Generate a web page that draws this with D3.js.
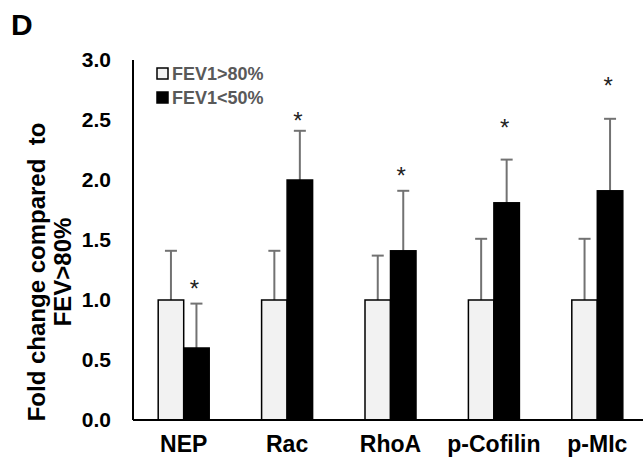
<!DOCTYPE html>
<html>
<head>
<meta charset="utf-8">
<script src="https://cdn.jsdelivr.net/npm/d3@7"></script>
<style>
  body { margin: 0; background: #fff; }
  text { font-family: "Liberation Sans", Arial, sans-serif; font-weight: bold; }
</style>
</head>
<body>
<div id="chart"></div>
<script>
// data
var categories = ["NEP", "Rac", "RhoA", "p-Cofilin", "p-MIc"];
var seriesNames = ["FEV1>80%", "FEV1<50%"];
var highValues = [1.0, 1.0, 1.0, 1.0, 1.0];     // FEV1>80%
var highErrors = [0.41, 0.41, 0.37, 0.51, 0.51];
var lowValues = [0.6, 2.0, 1.41, 1.81, 1.91];    // FEV1<50%
var lowErrors = [0.37, 0.41, 0.5, 0.36, 0.6];
var starLevels = [1.15, 2.55, 2.09, 2.49, 2.84];  // where the * sits
var yTicks = [0, 0.5, 1.0, 1.5, 2.0, 2.5, 3.0];

var width = 643, height = 457;
var margin = {top: 60, right: -6, bottom: 37, left: 133};

var svg = d3.select("#chart")
  .append("svg")
    .attr("width", width)
    .attr("height", height);

// scales
var x = d3.scaleBand()
    .domain(categories)
    .range([132, 649])
    .padding(0);

var x1 = d3.scaleBand()
    .domain(seriesNames)
    .range([x.bandwidth() / 2 - 25.5, x.bandwidth() / 2 + 25.5]);

var y = d3.scaleLinear()
    .domain([0, 3])
    .range([height - margin.bottom, margin.top]);

// build rows for both series
var rows = [];
categories.forEach(function(c, i) {
  rows.push({cat: c, s: seriesNames[0], v: highValues[i], e: highErrors[i]});
  rows.push({cat: c, s: seriesNames[1], v: lowValues[i], e: lowErrors[i]});
});

// error bars (upper only) drawn behind bars
var err = svg.append("g").selectAll("g")
  .data(rows)
  .enter().append("g")
    .attr("stroke", "#727272")
    .attr("stroke-width", 2);

err.append("line")
    .attr("x1", function(d) { return x(d.cat) + x1(d.s) + x1.bandwidth() / 2; })
    .attr("x2", function(d) { return x(d.cat) + x1(d.s) + x1.bandwidth() / 2; })
    .attr("y1", function(d) { return y(d.v); })
    .attr("y2", function(d) { return y(d.v + d.e); });

err.append("line")
    .attr("x1", function(d) { return x(d.cat) + x1(d.s) + x1.bandwidth() / 2 - 6; })
    .attr("x2", function(d) { return x(d.cat) + x1(d.s) + x1.bandwidth() / 2 + 6; })
    .attr("y1", function(d) { return y(d.v + d.e); })
    .attr("y2", function(d) { return y(d.v + d.e); });

// bars
svg.append("g").selectAll("rect")
  .data(rows)
  .enter().append("rect")
    .attr("x", function(d) { return x(d.cat) + x1(d.s); })
    .attr("y", function(d) { return y(d.v); })
    .attr("width", x1.bandwidth())
    .attr("height", function(d) { return y(0) - y(d.v); })
    .attr("fill", function(d) { return d.s == seriesNames[0] ? "#f2f2f2" : "#000"; })
    .attr("stroke", "#000")
    .attr("stroke-width", 1.5);

// significance stars
svg.append("g").selectAll("text")
  .data(categories)
  .enter().append("text")
    .attr("x", function(d) { return x(d) + x1(seriesNames[1]) + x1.bandwidth() / 2 - 2; })
    .attr("y", function(d, i) { return y(starLevels[i]); })
    .attr("dy", "0.62em")
    .attr("text-anchor", "middle")
    .style("font-size", "24px")
    .style("font-weight", "normal")
    .attr("fill", "#222")
    .text("*");

// y axis
var yAxis = svg.append("g")
    .attr("transform", "translate(" + margin.left + ",0)")
    .call(d3.axisLeft(y).tickValues(yTicks).tickFormat(d3.format(".1f")).tickSize(0).tickPadding(22));
yAxis.select(".domain").attr("stroke", "#000").attr("stroke-width", 2)
    .attr("d", "M0," + y(3) + "V" + y(0));
yAxis.selectAll("text")
    .style("font-size", "21px")
    .style("font-family", "'Liberation Sans', Arial, sans-serif")
    .style("font-weight", "bold")
    .attr("fill", "#000");

// x axis
var xAxis = svg.append("g")
    .attr("transform", "translate(0," + y(0) + ")")
    .call(d3.axisBottom(x).tickSize(0).tickPadding(16));
xAxis.select(".domain").attr("stroke", "#000").attr("stroke-width", 2)
    .attr("d", "M" + margin.left + ",0H" + width);
xAxis.selectAll("text")
    .style("font-size", "23px")
    .style("font-family", "'Liberation Sans', Arial, sans-serif")
    .style("font-weight", "bold")
    .attr("fill", "#000");

// y axis title, two lines
var yTitle = svg.append("text")
    .attr("transform", "translate(45," + 272 + ") rotate(-90)")
    .attr("text-anchor", "middle")
    .style("font-size", "24px")
    .attr("fill", "#000");
yTitle.append("tspan").attr("x", 0).attr("y", 0).text("Fold change compared  to").style("white-space", "pre");
yTitle.append("tspan").attr("x", 0).attr("y", 26).text("FEV>80%");

// legend
var legend = svg.append("g").selectAll("g")
  .data(seriesNames)
  .enter().append("g")
    .attr("transform", function(d, i) { return "translate(157," + (68 + i * 24) + ")"; });

legend.append("rect")
    .attr("width", 11)
    .attr("height", 11)
    .attr("fill", function(d, i) { return i == 0 ? "#f2f2f2" : "#000"; })
    .attr("stroke", "#000")
    .attr("stroke-width", 1.5);

legend.append("text")
    .attr("x", 15)
    .attr("y", 12)
    .style("font-size", "18px")
    .attr("fill", "#595959")
    .text(function(d) { return d; });

// panel letter
svg.append("text")
    .attr("x", 11)
    .attr("y", 35)
    .style("font-size", "30px")
    .attr("fill", "#000")
    .text("D");
</script>
</body>
</html>
